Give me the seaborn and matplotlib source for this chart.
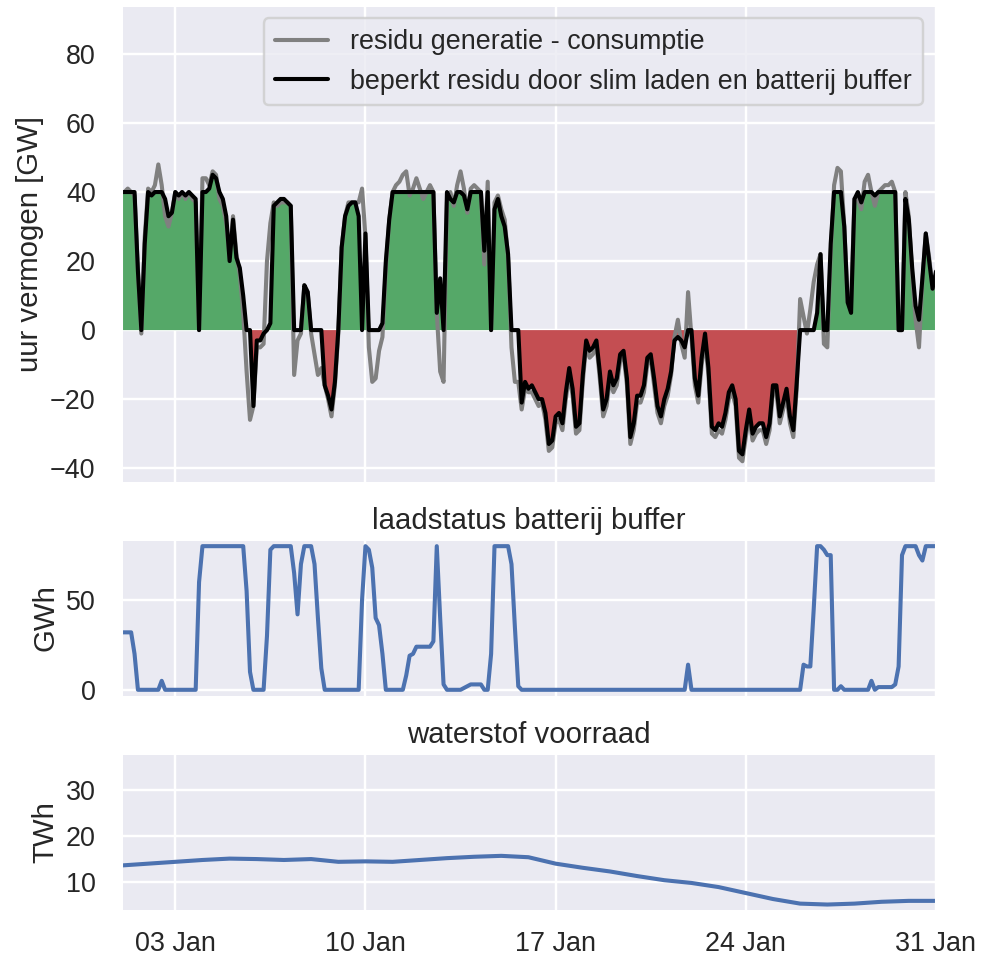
import numpy as np
import pandas as pd
import matplotlib
matplotlib.use("Agg")
import matplotlib.pyplot as plt
import matplotlib.dates as mdates
import seaborn as sns

# ---------------- data (3-hourly, 1 Jan 00:00 .. 31 Jan 00:00) ----------------
start = "2022-01-01"
# residual generation - consumption [GW]
residu = [
    40, 40, 41, 40, 39, 17, -1, 27,
    41, 40, 42, 48, 42, 33, 30, 34,
    40, 38, 40, 38, 40, 38, 37, 0,
    44, 44, 42, 46, 45, 38, 36, 31,
    21, 33, 22, 16, 5, -12, -26, -22,
    -5, -5, -4, 20, 31, 37, 36, 37,
    37, 37, 36, -13, -3, -1, 13, 11,
    -1, -7, -13, -11, -16, -20, -25, -16,
    -1, 24, 33, 37, 37, 37, 37, 41,
    27, -5, -15, -14, -6, -2, 18, 32,
    40, 42, 43, 45, 46, 39, 41, 44,
    41, 38, 40, 42, 40, 5, -12, -15,
    37, 40, 36, 42, 46, 41, 34, 41,
    42, 41, 40, 19, 43, 0, 37, 39,
    35, 32, 21, -5, -15, -15, -23, -17,
    -18, -18, -20, -22, -21, -26, -35, -34,
    -27, -26, -29, -20, -13, -19, -30, -29,
    -15, -4, -8, -7, -4, -14, -25, -22,
    -14, -18, -16, -9, -7, -16, -33, -29,
    -21, -21, -18, -10, -8, -16, -24, -27,
    -22, -19, -13, -2, 3, -4, -8, 11,
    -2, -16, -21, -10, -3, -13, -30, -31,
    -29, -30, -26, -20, -18, -22, -37, -38,
    -31, -25, -32, -30, -29, -29, -33, -29,
    -18, -18, -27, -23, -19, -27, -31, -17,
    9, 4, -1, 6, 14, 19, 22, -4,
    -5, 22, 42, 47, 46, 30, 8, 8,
    38, 38, 35, 43, 45, 40, 36, 40,
    41, 42, 42, 43, 40, 0, 0, 40,
    33, 16, 3, -5, 14, 28, 21, 12,
    15,
]
# residual limited by smart charging and battery buffer [GW]
beperkt = [
    40, 40, 40, 40, 40, 17, 0, 25,
    40, 39, 40, 40, 40, 38, 33, 34,
    40, 39, 40, 39, 40, 39, 38, 0,
    40, 40, 41, 45, 44, 40, 38, 33,
    20, 32, 21, 18, 10, 0, 0, -22,
    -3, -3, -1, 0, 2, 36, 37, 38,
    38, 37, 36, 0, 0, 0, 13, 11,
    0, 0, 0, 0, -16, -19, -23, -15,
    0, 24, 33, 36, 37, 37, 33, 0,
    28, 0, 0, 0, 0, 2, 20, 32,
    40, 40, 40, 40, 40, 40, 40, 40,
    40, 40, 40, 40, 40, 5, 15, 0,
    40, 38, 37, 40, 40, 39, 35, 40,
    40, 40, 40, 23, 40, 0, 35, 38,
    33, 30, 22, 0, 0, 0, -21, -15,
    -17, -16, -18, -20, -20, -24, -33, -32,
    -25, -24, -27, -18, -11, -17, -28, -27,
    -13, -3, -6, -5, -3, -12, -23, -20,
    -12, -16, -14, -7, -6, -14, -31, -27,
    -19, -19, -16, -8, -7, -14, -22, -25,
    -20, -17, -12, -3, -2, -3, -5, 0,
    0, -14, -19, -8, -1, -11, -28, -29,
    -27, -28, -24, -18, -16, -20, -35, -36,
    -29, -23, -30, -28, -27, -27, -31, -27,
    -16, -16, -25, -21, -17, -25, -29, -15,
    0, 0, 0, 0, 0, 5, 22, 0,
    0, 25, 40, 40, 40, 30, 8, 5,
    38, 40, 37, 40, 40, 40, 39, 40,
    40, 40, 40, 40, 40, 0, 0, 38,
    32, 18, 7, 3, 15, 28, 20, 12,
    17,
]
# battery state of charge [GWh]
batterij = [
    32, 32, 32, 32, 20, 0, 0, 0,
    0, 0, 0, 0, 5, 0, 0, 0,
    0, 0, 0, 0, 0, 0, 0, 60,
    80, 80, 80, 80, 80, 80, 80, 80,
    80, 80, 80, 80, 80, 55, 10, 0,
    0, 0, 0, 30, 78, 80, 80, 80,
    80, 80, 80, 65, 42, 70, 80, 80,
    80, 70, 40, 12, 0, 0, 0, 0,
    0, 0, 0, 0, 0, 0, 0, 50,
    80, 78, 68, 40, 36, 20, 0, 0,
    0, 0, 0, 0, 8, 19, 20, 24,
    24, 24, 24, 24, 27, 80, 40, 3,
    0, 0, 0, 0, 0, 1, 2, 3,
    3, 3, 3, 0, 0, 20, 80, 80,
    80, 80, 80, 70, 35, 2, 0, 0,
    0, 0, 0, 0, 0, 0, 0, 0,
    0, 0, 0, 0, 0, 0, 0, 0,
    0, 0, 0, 0, 0, 0, 0, 0,
    0, 0, 0, 0, 0, 0, 0, 0,
    0, 0, 0, 0, 0, 0, 0, 0,
    0, 0, 0, 0, 0, 0, 0, 14,
    0, 0, 0, 0, 0, 0, 0, 0,
    0, 0, 0, 0, 0, 0, 0, 0,
    0, 0, 0, 0, 0, 0, 0, 0,
    0, 0, 0, 0, 0, 0, 0, 0,
    0, 14, 13, 13, 45, 80, 80, 78,
    75, 75, 0, 0, 2, 0, 0, 0,
    0, 0, 0, 0, 0, 5, 0, 1.5,
    1.5, 1.5, 1.5, 1.5, 3, 13, 75, 80,
    80, 80, 80, 75, 72, 80, 80, 80,
    80,
]
# hydrogen storage [TWh], daily
waterstof = [
    13.6, 14.0, 14.4, 14.8, 15.1, 15.0, 14.8, 15.0, 14.4, 14.5,
    14.4, 14.8, 15.2, 15.5, 15.7, 15.4, 14.0, 13.1, 12.3, 11.3,
    10.4, 9.8, 8.9, 7.6, 6.3, 5.3, 5.1, 5.3, 5.7, 5.9, 5.9,
]
labels = ["residu generatie - consumptie",
          "beperkt residu door slim laden en batterij buffer"]

t3 = pd.date_range(start, periods=len(residu), freq="3h")
td = pd.date_range(start, periods=len(waterstof), freq="D")
df = pd.DataFrame({"t": t3, "residu": residu, "beperkt": beperkt, "batterij": batterij})
dh = pd.DataFrame({"t": td, "waterstof": waterstof})

# ---------------- style ----------------
sns.set_theme(context="talk", style="darkgrid")
plt.rcParams["font.family"] = ["Liberation Sans", "DejaVu Sans"]
plt.rcParams["ytick.major.pad"] = 6.5
LW = 2.5
pal = sns.color_palette("deep")

DPI = 117.5
fig = plt.figure(figsize=(981 / DPI, 957 / DPI), dpi=DPI)
L, W = 0.1233, 0.8308
ax1 = fig.add_axes([L, 0.4953, W, 0.4995])
ax2 = fig.add_axes([L, 0.2717, W, 0.1651], sharex=ax1)
ax3 = fig.add_axes([L, 0.0481, W, 0.1651], sharex=ax1)

# top panel
b = df["beperkt"].to_numpy(dtype=float)
ax1.fill_between(df["t"], 0, b, where=b >= 0, interpolate=True, color=pal[2], lw=0)
ax1.fill_between(df["t"], 0, b, where=b <= 0, interpolate=True, color=pal[3], lw=0)
sns.lineplot(data=df, x="t", y="residu", color="gray", lw=LW, ax=ax1, label=labels[0])
sns.lineplot(data=df, x="t", y="beperkt", color="black", lw=LW, ax=ax1, label=labels[1])
ax1.set_ylim(-44.3, 94.2)
ax1.set_ylabel("uur vermogen [GW]")
ax1.set_xlabel("")
ax1.legend(loc="upper right")

# middle panel
sns.lineplot(data=df, x="t", y="batterij", color=pal[0], lw=LW, ax=ax2)
ax2.set_ylim(-4, 84)
ax2.set_yticks([0, 50])
ax2.set_ylabel("GWh")
ax2.set_xlabel("")
ax2.set_title("laadstatus batterij buffer")

# bottom panel
sns.lineplot(data=dh, x="t", y="waterstof", color=pal[0], lw=LW, ax=ax3)
ax3.set_ylim(3.7, 38.1)
ax3.set_yticks([10, 20, 30])
ax3.set_ylabel("TWh")
ax3.set_xlabel("")
ax3.set_title("waterstof voorraad")

ax3.set_xlim(t3[0], t3[-1])
ax3.xaxis.set_major_locator(mdates.DayLocator(bymonthday=[3, 10, 17, 24, 31]))
ax3.xaxis.set_major_formatter(mdates.DateFormatter("%d %b"))
for ax in (ax1, ax2):
    plt.setp(ax.get_xticklabels(), visible=False)

fig.savefig("out.png", dpi=DPI)
